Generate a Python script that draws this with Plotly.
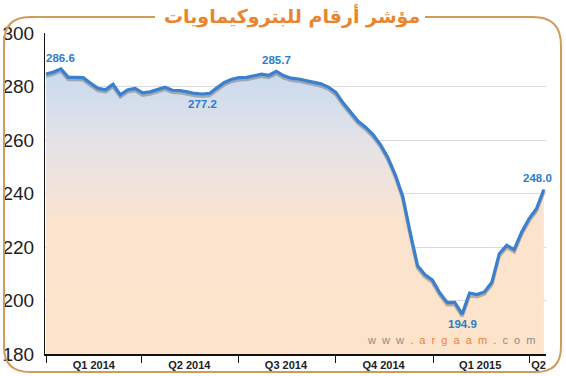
import datetime as dt
import plotly.graph_objects as go

# ---------------- data ----------------
start_date = dt.date(2014, 1, 1)
index_values = [
    284.7, 285.4, 286.6, 283.4, 283.4, 283.3, 281.2, 279.3, 278.8, 280.8,
    276.9, 278.8, 279.3, 277.6, 278.0, 279.0, 279.7, 278.6, 278.5, 278.0,
    277.4, 277.2, 277.4, 279.5, 281.5, 282.7, 283.3, 283.4, 284.0, 284.6,
    284.2, 285.7, 284.0, 283.1, 282.8, 282.2, 281.8, 281.0, 279.8, 277.8,
    273.8, 270.3, 267.0, 264.8, 262.0, 258.3, 253.5, 247.0, 239.0, 225.5,
    213.0, 209.6, 207.6, 202.8, 199.2, 199.3, 194.9, 202.8, 202.2, 203.2,
    206.8, 217.5, 220.6, 219.0, 225.5, 230.5, 234.3, 241.5,
]
dates = [start_date + dt.timedelta(days=7 * i) for i in range(len(index_values))]

quarter_starts = ["2014-01-01", "2014-04-01", "2014-07-01", "2014-10-01",
                  "2015-01-01", "2015-04-01"]
quarter_label_pos = ["2014-02-15", "2014-05-16", "2014-08-15", "2014-11-15",
                     "2015-02-14", "2015-04-10"]
quarter_labels = ["Q1 2014", "Q2 2014", "Q3 2014", "Q4 2014", "Q1 2015", "Q2"]

y_ticks = [180, 200, 220, 240, 260, 280, 300]

# labelled points: (index, text, position)
point_labels = [(2, "286.6", "above"), (21, "277.2", "below"),
                (31, "285.7", "above"), (56, "194.9", "below"),
                (67, "248.0", "above")]

title_text = "مؤشر أرقام للبتروكيماويات"

# ---------------- figure ----------------
W, H = 566, 376
ML, MR, MT, MB = 45, 20, 33, 22
PW, PH = W - ML - MR, H - MT - MB


def pp(x, y):
    return f"{(x - ML) / PW:.4f},{(H - MB - y) / PH:.4f}"


fig = go.Figure()

fig.add_trace(go.Scatter(
    x=dates, y=index_values, mode="lines", fill="tozeroy",
    line=dict(width=0, color="rgba(0,0,0,0)"),
    fillgradient=dict(type="vertical", start=180, stop=290,
                      colorscale=[[0, "#FDE3CA"], [0.45, "#FBE3CF"],
                                  [0.7, "#E6E3E6"], [1, "#C4D9F1"]]),
    hoverinfo="skip", showlegend=False,
))
# soft shadow under the line
fig.add_trace(go.Scatter(
    x=dates, y=[v - 0.8 for v in index_values], mode="lines",
    line=dict(width=3.5, color="rgba(70,70,70,0.35)"),
    hoverinfo="skip", showlegend=False,
))
fig.add_trace(go.Scatter(
    x=dates, y=index_values, mode="lines",
    line=dict(width=3.2, color="#3A80CF"),
    showlegend=False,
))

last = len(index_values) - 1
for idx, txt, pos in point_labels:
    fig.add_annotation(
        x=dates[idx], y=index_values[idx], text=f"<b>{txt}</b>",
        showarrow=False,
        xanchor="right" if idx == last else "center",
        yanchor="bottom" if pos == "above" else "top",
        yshift=3 if pos == "above" else -2,
        xshift=10 if idx == last else 0,
        font=dict(family="Liberation Sans, Arial", size=11.5, color="#2E7BCB"),
    )

# watermark
fig.add_annotation(
    xref="paper", yref="paper", x=(538 - ML) / PW, y=(H - MB - 340) / PH,
    xanchor="right", yanchor="middle", showarrow=False,
    text="w  w  w  .  <span style='color:#E8843A'>a  r  g  a  a  m</span>  .  c  o  m",
    font=dict(family="Liberation Sans, Arial", size=11, color="#8C8C8C"),
)

# title
fig.add_annotation(
    xref="paper", yref="paper", x=(292 - ML) / PW, y=(H - MB - 16) / PH,
    xanchor="center", yanchor="middle", showarrow=False,
    text=f"<b>{title_text}</b>",
    font=dict(family="DejaVu Sans, Noto Sans", size=19, color="#E9852F"),
)

# rounded frame with a gap for the title
frame = ("M " + pp(155, 17) + " L " + pp(30, 17) + " Q " + pp(4, 17) + " " + pp(4, 43)
         + " L " + pp(4, 347) + " Q " + pp(4, 372) + " " + pp(30, 372)
         + " L " + pp(536, 372) + " Q " + pp(561, 372) + " " + pp(561, 347)
         + " L " + pp(561, 45) + " Q " + pp(561, 17) + " " + pp(533, 17)
         + " L " + pp(425, 17))
fig.add_shape(type="path", xref="paper", yref="paper", path=frame,
              line=dict(color="#D09A5B", width=2), layer="above")

fig.update_layout(
    width=W, height=H,
    margin=dict(l=ML, r=MR, t=MT, b=MB, autoexpand=False),
    paper_bgcolor="white", plot_bgcolor="white",
    xaxis=dict(
        type="date", range=["2013-12-31", "2015-04-17"], automargin=False,
        tickmode="array", tickvals=quarter_label_pos, ticktext=quarter_labels,
        ticks="", showgrid=False, zeroline=False,
        showline=True, linecolor="#111111", linewidth=1.5,
        tickfont=dict(family="Liberation Sans, Arial", size=11, color="#222222",
                      weight="bold"),
        minor=dict(tickmode="array", tickvals=quarter_starts, ticks="outside",
                   ticklen=7, tickwidth=1, tickcolor="#111111", showgrid=False),
    ),
    yaxis=dict(
        range=[180, 300], tickmode="array", tickvals=y_ticks, automargin=False,
        ticks="", showgrid=True, gridcolor="#DADADA", gridwidth=1,
        ticklabelstandoff=6,
        zeroline=False, showline=True, linecolor="#111111", linewidth=1.2,
        tickfont=dict(family="Liberation Sans, Arial", size=19, color="#1E1E1E"),
    ),
)

fig.write_html(
    "out.html",
    config={"displayModeBar": False},
    post_script="document.body.style.margin='0';document.body.style.overflow='hidden';",
)
